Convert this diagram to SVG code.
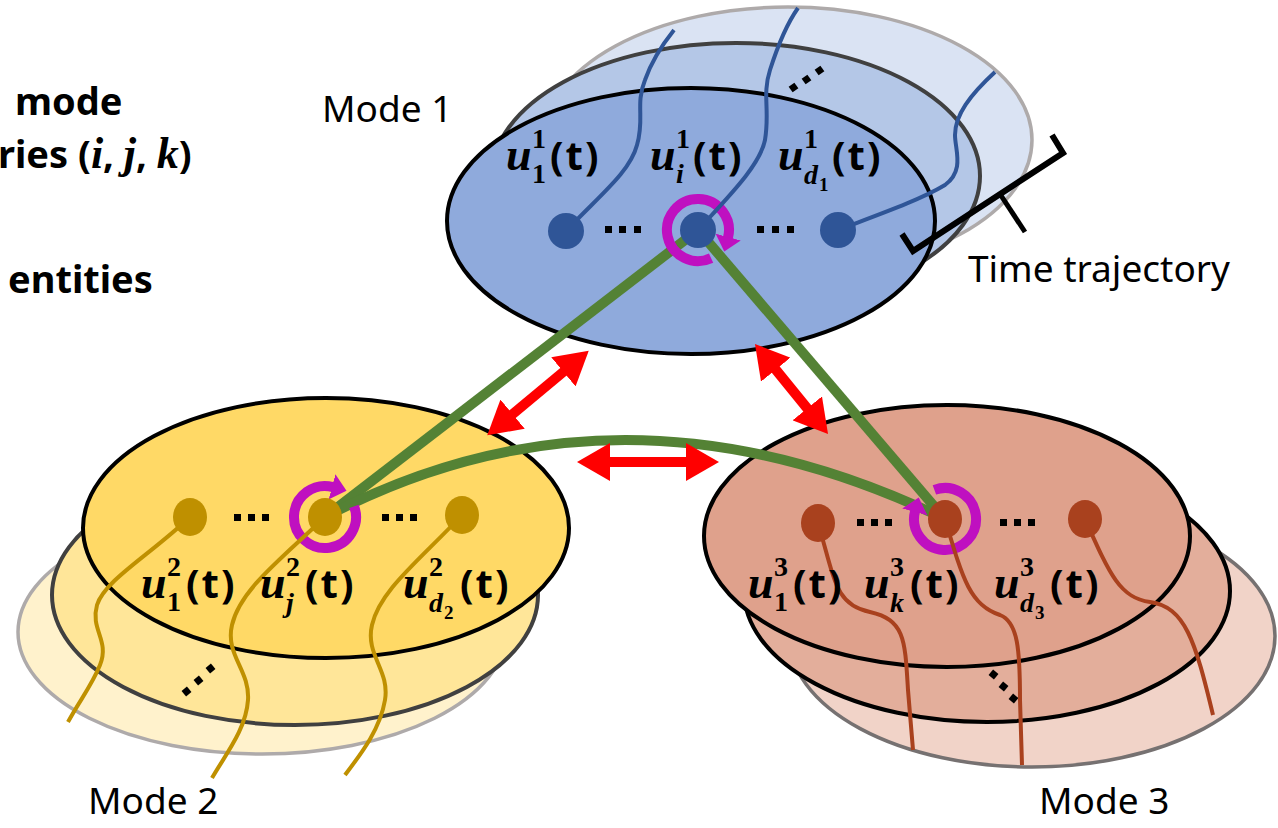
<svg xmlns="http://www.w3.org/2000/svg" width="1278" height="828" viewBox="0 0 1278 828">
<defs>
<style>
.lbl{font-family:"Noto Sans","Open Sans",sans-serif;font-size:37px;fill:#000}
.side{font-family:"Noto Sans","Open Sans",sans-serif;font-size:38px;font-weight:bold;fill:#000}
.mi{font-family:"Liberation Serif",serif;font-style:italic;font-weight:bold;font-size:44px}
.u{font-family:"Liberation Serif",serif;font-style:italic;font-weight:bold;font-size:46px;fill:#000}
.sd{font-family:"Liberation Serif",serif;font-weight:bold;font-size:28px;fill:#000}
.si{font-family:"Liberation Serif",serif;font-style:italic;font-weight:bold;font-size:28px;fill:#000}
.ss{font-family:"Liberation Serif",serif;font-weight:bold;font-size:19px;fill:#000}
.pt{font-family:"Noto Sans","Open Sans",sans-serif;font-weight:bold;font-size:40px;letter-spacing:2px;fill:#000}
.front{stroke:#000;stroke-width:4}
.mid{stroke:#404040;stroke-width:4}
.back{stroke:#aeaaaa;stroke-width:3.5}
.green{fill:none;stroke:#548235;stroke-width:10}
.red{fill:none;stroke:#ff0000;stroke-width:10;marker-start:url(#rh);marker-end:url(#rh)}
.ring{fill:none;stroke:#bf10c0;stroke-width:10;marker-end:url(#ph)}
.tb{fill:none;stroke:#2f5597;stroke-width:4}
.ty{fill:none;stroke:#bf9000;stroke-width:4}
.tr{fill:none;stroke:#a9411e;stroke-width:4}
.dot{fill:#000}
</style>
<marker id="rh" markerUnits="userSpaceOnUse" markerWidth="34" markerHeight="38" refX="6" refY="19" orient="auto-start-reverse" viewBox="0 0 34 38">
<path d="M0,0 L33,19 L0,38 Z" fill="#ff0000"/>
</marker>
<marker id="ph" markerUnits="userSpaceOnUse" markerWidth="16" markerHeight="26" refX="1" refY="13" orient="auto" viewBox="0 0 16 26">
<path d="M0,0 L15,13 L0,26 Z" fill="#bf10c0"/>
</marker>
</defs>
<rect width="1278" height="828" fill="#fff"/>

<!-- side texts -->
<g id="side-text">
<text class="side" x="15" y="115">mode</text>
<text class="side" x="-2" y="168">ries (<tspan class="mi">i</tspan>, <tspan class="mi">j</tspan>, <tspan class="mi">k</tspan>)</text>
<text class="side" x="8" y="293">entities</text>
</g>

<!-- Mode 1 planes -->
<g id="mode1">
<ellipse class="back" cx="788" cy="140" rx="244" ry="133" fill="#dae3f3"/>
<ellipse class="mid" cx="736" cy="176" rx="244" ry="133" fill="#b4c7e7"/>
<ellipse class="front" cx="691" cy="221" rx="244" ry="133" fill="#8faadc"/>
<text class="lbl" x="322" y="122">Mode 1</text>
<g class="dot">
<rect x="605" y="226" width="7" height="7"/><rect x="619" y="226" width="7" height="7"/><rect x="634" y="226" width="7" height="7"/>
<rect x="757" y="226" width="7" height="7"/><rect x="772" y="226" width="7" height="7"/><rect x="787" y="226" width="7" height="7"/>
<rect x="790" y="84" width="7" height="7" transform="rotate(-35 793.5 87.5)"/>
<rect x="803" y="76" width="7" height="7" transform="rotate(-35 806.5 79.5)"/>
<rect x="816" y="67" width="7" height="7" transform="rotate(-35 819.5 70.5)"/>
</g>
</g>

<!-- Mode 2 planes -->
<g id="mode2">
<ellipse class="back" cx="262" cy="632" rx="244" ry="122" fill="#fff2cc"/>
<ellipse class="mid" cx="295" cy="595" rx="243" ry="130" fill="#ffe699"/>
<ellipse class="front" cx="326" cy="528" rx="243" ry="130" fill="#ffd966"/>
<text class="lbl" x="88" y="814" font-size="36">Mode 2</text>
<g class="dot">
<rect x="234" y="514" width="7" height="7"/><rect x="248" y="514" width="7" height="7"/><rect x="262" y="514" width="7" height="7"/>
<rect x="382" y="514" width="7" height="7"/><rect x="396" y="514" width="7" height="7"/><rect x="410" y="514" width="7" height="7"/>
<rect x="183" y="688" width="7" height="7" transform="rotate(-40 186.5 691.5)"/>
<rect x="195" y="677" width="7" height="7" transform="rotate(-40 198.5 680.5)"/>
<rect x="207" y="665" width="7" height="7" transform="rotate(-40 210.5 668.5)"/>
</g>
</g>

<!-- Mode 3 planes -->
<g id="mode3">
<ellipse cx="1032" cy="636" rx="243" ry="131" fill="#f1d3c8" stroke="#767171" stroke-width="3.5"/>
<ellipse class="front" cx="987" cy="591" rx="243" ry="131" fill="#e3ae9b"/>
<ellipse class="front" cx="947" cy="536" rx="243" ry="131" fill="#dfa18c"/>
<text class="lbl" x="1039" y="814" font-size="36">Mode 3</text>
<g class="dot">
<rect x="857" y="519" width="7" height="7"/><rect x="871" y="519" width="7" height="7"/><rect x="885" y="519" width="7" height="7"/>
<rect x="1000" y="519" width="7" height="7"/><rect x="1014" y="519" width="7" height="7"/><rect x="1028" y="519" width="7" height="7"/>
<rect x="990" y="671" width="7" height="7" transform="rotate(40 993.5 674.5)"/>
<rect x="1000" y="683" width="7" height="7" transform="rotate(40 1003.5 686.5)"/>
<rect x="1010" y="695" width="7" height="7" transform="rotate(40 1013.5 698.5)"/>
</g>
</g>

<!-- time trajectory bracket -->
<g id="time-trajectory">
<path d="M902,234 L913,251 L1063,153 L1052,135" fill="none" stroke="#000" stroke-width="6" stroke-linejoin="miter"/>
<line x1="1000" y1="194" x2="1025" y2="232" stroke="#000" stroke-width="5"/>
<text class="lbl" x="968" y="282">Time trajectory</text>
</g>

<!-- connectors -->
<g id="connectors">
<line class="green" x1="698" y1="230" x2="325" y2="517"/>
<line class="green" x1="698" y1="230" x2="945" y2="519"/>
<path class="green" d="M325,517 Q620,362 945,519"/>
<line class="red" x1="508" y1="418" x2="568" y2="368"/>
<line class="red" x1="772" y1="365" x2="811" y2="413"/>
<line class="red" x1="604" y1="462" x2="692" y2="462"/>
</g>

<!-- Mode 1 entities -->
<g id="u1-1">
<path class="tb" d="M566,231 C600,195 630,172 637,145 C645,118 635,105 645,80 C652,60 662,45 674,30"/>
<circle cx="566" cy="231" r="18" fill="#2f5597"/>
<text class="u" x="506" y="170">u</text><text class="sd" x="532" y="148">1</text><text class="sd" x="532" y="183">1</text><text class="pt" x="550" y="170">(t)</text>
</g>
<g id="u1-i">
<path class="ring" d="M711.1,258.1 A31,31 0 1 1 727.9,238"/>
<path class="tb" d="M698,230 C730,195 760,165 765,140 C770,110 762,95 770,70 C778,45 786,25 798,8"/>
<circle cx="698" cy="230" r="18" fill="#2f5597"/>
<text class="u" x="650" y="170">u</text><text class="sd" x="676" y="148">1</text><text class="si" x="676" y="183">i</text><text class="pt" x="693" y="170">(t)</text>
</g>
<g id="u1-d1">
<path class="tb" d="M838,230 C880,214 920,200 945,185 C965,170 955,150 955,135 C955,115 970,95 995,72"/>
<circle cx="838" cy="230" r="18" fill="#2f5597"/>
<text class="u" x="778" y="170">u</text><text class="sd" x="804" y="148">1</text><text class="si" x="804" y="184">d</text><text class="ss" x="819" y="191">1</text><text class="pt" x="832" y="170">(t)</text>
</g>

<!-- Mode 2 entities -->
<g id="u2-1">
<path class="ty" d="M190,517 C150,555 105,580 97,605 C90,630 110,640 100,665 C92,685 80,700 68,722"/>
<ellipse cx="190" cy="517" rx="17" ry="19" fill="#bf9000"/>
<text class="u" x="141" y="598">u</text><text class="sd" x="167" y="576">2</text><text class="sd" x="167" y="611">1</text><text class="pt" x="186" y="598">(t)</text>
</g>
<g id="u2-j">
<path class="ring" d="M354.1,506.4 A31,31 0 1 1 333,487.1"/>
<path class="ty" d="M325,517 C280,560 240,590 232,625 C225,655 250,670 248,700 C246,730 225,755 212,778"/>
<ellipse cx="325" cy="517" rx="17" ry="19" fill="#bf9000"/>
<text class="u" x="260" y="598">u</text><text class="sd" x="286" y="576">2</text><text class="si" x="286" y="612">j</text><text class="pt" x="305" y="598">(t)</text>
</g>
<g id="u2-d2">
<path class="ty" d="M462,515 C420,560 380,590 372,625 C365,655 390,670 385,700 C380,730 360,755 345,775"/>
<ellipse cx="462" cy="515" rx="17" ry="19" fill="#bf9000"/>
<text class="u" x="403" y="598">u</text><text class="sd" x="429" y="576">2</text><text class="si" x="429" y="612">d</text><text class="ss" x="444" y="619">2</text><text class="pt" x="460" y="598">(t)</text>
</g>

<!-- Mode 3 entities -->
<g id="u3-1">
<path class="tr" d="M818,523 C835,580 835,605 870,612 C905,620 905,640 908,690 L913,750"/>
<ellipse cx="818" cy="523" rx="17" ry="19" fill="#a9411e"/>
<text class="u" x="748" y="598">u</text><text class="sd" x="774" y="576">3</text><text class="sd" x="774" y="611">1</text><text class="pt" x="793" y="598">(t)</text>
</g>
<g id="u3-k">
<path class="ring" d="M934.4,489.9 A31,31 0 1 1 915.1,511"/>
<path class="tr" d="M945,519 C963,580 970,605 1000,615 C1018,622 1020,650 1020,700 L1022,765"/>
<ellipse cx="945" cy="519" rx="17" ry="19" fill="#a9411e"/>
<text class="u" x="864" y="598">u</text><text class="sd" x="890" y="576">3</text><text class="si" x="890" y="612">k</text><text class="pt" x="910" y="598">(t)</text>
</g>
<g id="u3-d3">
<path class="tr" d="M1085,519 C1110,575 1120,598 1150,602 C1185,607 1195,640 1213,715"/>
<ellipse cx="1085" cy="519" rx="17" ry="19" fill="#a9411e"/>
<text class="u" x="994" y="598">u</text><text class="sd" x="1020" y="576">3</text><text class="si" x="1020" y="612">d</text><text class="ss" x="1035" y="619">3</text><text class="pt" x="1050" y="598">(t)</text>
</g>
</svg>
